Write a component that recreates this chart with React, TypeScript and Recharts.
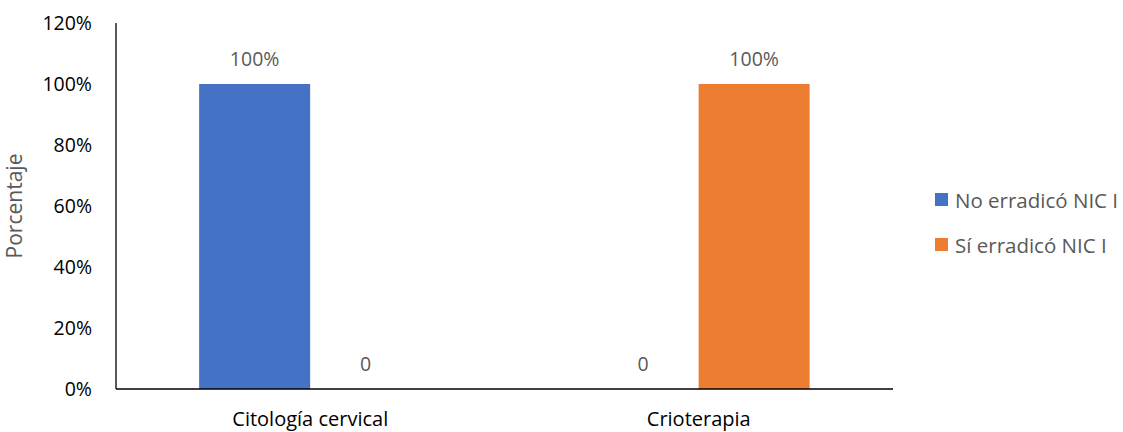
import { Bar, BarChart, LabelList, Legend, XAxis, YAxis } from "recharts";

const categories = ["Citología cervical", "Crioterapia"];
const noErradico = [100, 0];
const siErradico = [0, 100];
const yTicks = [0, 20, 40, 60, 80, 100, 120];

const series = [
  { key: "no", name: "No erradicó NIC I", color: "#4472C4" },
  { key: "si", name: "Sí erradicó NIC I", color: "#ED7D31" },
];

const data = categories.map((c, i) => ({
  cat: c,
  no: noErradico[i],
  si: siErradico[i],
}));

const FONT = "'Open Sans', sans-serif";

// Excel-style data labels: "100%" for filled bars, plain "0" for empty ones
const renderValue = (props: any) => {
  const { x, y, width, value } = props;
  const txt = Number(value) === 0 ? "0" : `${value}%`;
  return (
    <text
      x={Number(x) + Number(width) / 2}
      y={Number(y) - 18}
      textAnchor="middle"
      fill="#595959"
      fontSize={19.5}
      fontFamily={FONT}
    >
      {txt}
    </text>
  );
};

function LegendBox() {
  return (
    <div style={{ fontFamily: FONT, fontSize: 20.5, color: "#595959" }}>
      {series.map((s) => (
        <div
          key={s.key}
          style={{ display: "flex", alignItems: "center", height: 45 }}
        >
          <span
            style={{
              width: 13,
              height: 13,
              background: s.color,
              display: "inline-block",
              marginRight: 7,
            }}
          />
          <span>{s.name}</span>
        </div>
      ))}
    </div>
  );
}

export default function App() {
  return (
    <div style={{ position: "absolute", left: 0, top: 0, width: 1123, height: 432, background: "#fff" }}>
      <BarChart
        width={1123}
        height={432}
        data={data}
        margin={{ top: 23, right: 230, bottom: 0, left: 0 }}
        barCategoryGap="21.4%"
        barGap={0}
      >
        <XAxis
          dataKey="cat"
          height={43}
          axisLine={{ stroke: "#000", strokeWidth: 1.3 }}
          tickLine={false}
          tickSize={0}
          tickMargin={23}
          tick={{ fill: "#000", fontSize: 20, fontFamily: FONT }}
        />
        <YAxis
          width={116}
          domain={[0, 120]}
          ticks={yTicks}
          tickFormatter={(v) => `${v}%`}
          axisLine={{ stroke: "#000", strokeWidth: 1.3 }}
          tickLine={false}
          tickSize={0}
          tickMargin={24}
          tick={{ fill: "#000", fontSize: 19.5, fontFamily: FONT }}
          label={{
            value: "Porcentaje",
            angle: -90,
            position: "insideLeft",
            offset: 15,
            style: { fill: "#595959", fontSize: 21, fontFamily: FONT, textAnchor: "middle" },
          }}
        />
        <Legend
          layout="vertical"
          align="center"
          verticalAlign="middle"
          content={() => <LegendBox />}
          wrapperStyle={{ left: 935, top: 177, width: 188 }}
        />
        {series.map((s) => (
          <Bar
            key={s.key}
            dataKey={s.key}
            name={s.name}
            fill={s.color}
            minPointSize={0.01}
            isAnimationActive={false}
          >
            <LabelList dataKey={s.key} content={renderValue} />
          </Bar>
        ))}
      </BarChart>
    </div>
  );
}
